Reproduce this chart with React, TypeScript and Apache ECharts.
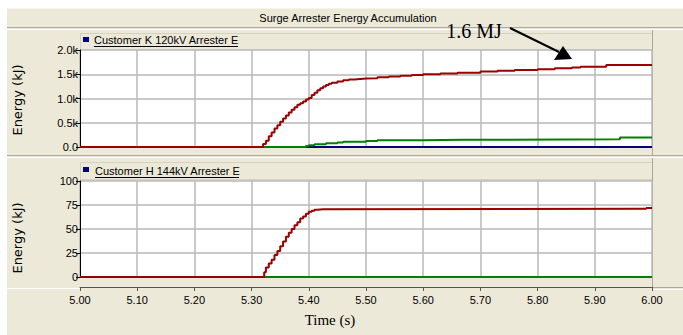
import React, { useEffect, useRef } from "react";
import * as echarts from "echarts";

// ---- Data (time in s, energy in kJ) ----
const X_MIN = 5.0;
const X_MAX = 6.0;
const X_STEP = 0.1;

const TOP_Y_TICKS = ["0.0", "0.5k", "1.0k", "1.5k", "2.0k"];
const BOTTOM_Y_MAX = 100;

// Customer K 120kV
const kRed: [number, number][] = [
  [5.0, 0], [5.315, 0], [5.32, 60], [5.325, 130], [5.33, 220], [5.335, 300], [5.34, 380],
  [5.345, 450], [5.35, 520], [5.355, 590], [5.36, 650], [5.365, 710], [5.37, 770],
  [5.375, 820], [5.38, 870], [5.385, 900], [5.39, 940], [5.395, 980], [5.4, 1010],
  [5.405, 1070], [5.41, 1120], [5.415, 1170], [5.42, 1210], [5.425, 1250], [5.43, 1280],
  [5.435, 1305], [5.44, 1325], [5.45, 1350], [5.46, 1375], [5.47, 1390], [5.48, 1400],
  [5.49, 1410], [5.5, 1420], [5.52, 1440], [5.54, 1455], [5.56, 1470], [5.58, 1485],
  [5.6, 1500], [5.63, 1515], [5.66, 1530], [5.7, 1555], [5.73, 1570], [5.76, 1590],
  [5.8, 1605], [5.83, 1625], [5.86, 1640], [5.875, 1655], [5.92, 1690], [6.0, 1690],
];
const kGreen: [number, number][] = [
  [5.0, 0], [5.39, 0], [5.395, 20], [5.4, 35], [5.41, 55], [5.43, 75], [5.45, 95],
  [5.46, 110], [5.5, 125], [5.52, 140], [5.6, 148], [5.67, 160], [5.944, 195], [6.0, 195],
];
const kBlue: [number, number][] = [[5.0, 0], [6.0, 0]];

// Customer H 144kV
const hRed: [number, number][] = [
  [5.0, 0], [5.32, 0], [5.322, 5], [5.325, 10], [5.33, 14], [5.335, 18], [5.34, 23],
  [5.345, 27], [5.35, 32], [5.355, 37], [5.36, 42], [5.365, 46], [5.37, 50], [5.375, 54],
  [5.38, 57], [5.385, 61], [5.39, 63], [5.395, 66], [5.4, 68], [5.405, 69], [5.41, 70],
  [5.415, 70.5], [5.425, 71], [5.988, 71], [5.99, 72], [6.0, 72],
];
const hGreen: [number, number][] = [[5.0, 0], [6.0, 0]];
const hBlue: [number, number][] = [[5.0, 0], [6.0, 0]];

const TITLE = "Surge Arrester Energy Accumulation";
const LEGEND_TOP = "Customer K 120kV Arrester E";
const LEGEND_BOTTOM = "Customer H 144kV Arrester E";
const Y_NAME = "Energy (kJ)";
const X_NAME = "Time (s)";
const ANNOTATION = "1.6 MJ";

const RED = "#990000";
const GREEN = "#008000";
const BLUE = "#000080";
const BEIGE = "#ECE9D8";
const GRIDC = "#B8B8B8";
const SANS = "Liberation Sans, Arial, sans-serif";

export default function App() {
  const ref = useRef<HTMLDivElement>(null);
  useEffect(() => {
    if (!ref.current) return;
    const chart = echarts.init(ref.current, null, { renderer: "svg" });

    const line = (name: string, data: [number, number][], color: string, idx: number, z: number) => ({
      name,
      type: "line",
      data,
      step: "end",
      showSymbol: false,
      xAxisIndex: idx,
      yAxisIndex: idx,
      z,
      lineStyle: { color, width: 2 },
      itemStyle: { color },
    });

    const yAxisBase = {
      type: "value",
      min: 0,
      axisLine: { show: true, lineStyle: { color: "#000", width: 1 } },
      axisTick: { show: true, length: 4, lineStyle: { color: "#000" } },
      axisLabel: { color: "#000", fontSize: 11, fontFamily: SANS, margin: 2 },
      splitLine: { show: true, lineStyle: { color: GRIDC, width: 1.5 } },
    };

    const hline = (x1: number, x2: number, y: number, color: string, z = -5) => ({
      type: "line",
      z,
      silent: true,
      shape: { x1, y1: y, x2, y2: y },
      style: { stroke: color, lineWidth: 1 },
    });
    const vline = (x: number, y1: number, y2: number, color: string, z = -5) => ({
      type: "line",
      z,
      silent: true,
      shape: { x1: x, y1, x2: x, y2 },
      style: { stroke: color, lineWidth: 1 },
    });

    chart.setOption({
      animation: false,
      backgroundColor: "#ffffff",
      grid: [
        { left: 80, top: 50, width: 572, height: 97, show: true, backgroundColor: "#fff", borderWidth: 0 },
        { left: 80, top: 181, width: 572, height: 96, show: true, backgroundColor: "#fff", borderWidth: 0 },
      ],
      xAxis: [
        {
          type: "value", gridIndex: 0, min: X_MIN, max: X_MAX, interval: X_STEP,
          axisLine: { show: false }, axisTick: { show: false }, axisLabel: { show: false },
          splitLine: { show: true, lineStyle: { color: GRIDC, width: 1.5 } },
        },
        {
          type: "value", gridIndex: 1, min: X_MIN, max: X_MAX, interval: X_STEP, offset: 10,
          axisLine: { show: true, onZero: false, lineStyle: { color: "#555", width: 1 } },
          axisTick: { show: true, length: 4, inside: false, lineStyle: { color: "#555" } },
          axisLabel: {
            color: "#000", fontSize: 11, fontFamily: SANS, margin: 7,
            formatter: (v: number) => v.toFixed(2),
          },
          splitLine: { show: true, lineStyle: { color: GRIDC, width: 1.5 } },
        },
      ],
      yAxis: [
        {
          ...yAxisBase, gridIndex: 0, max: 2000, interval: 500,
          axisLabel: { ...yAxisBase.axisLabel, formatter: (v: number) => TOP_Y_TICKS[Math.round(v / 500)] },
        },
        { ...yAxisBase, gridIndex: 1, max: BOTTOM_Y_MAX, interval: 25 },
      ],
      series: [
        line("K blue", kBlue, BLUE, 0, 2),
        line("K green", kGreen, GREEN, 0, 3),
        line(LEGEND_TOP, kRed, RED, 0, 4),
        line("H blue", hBlue, BLUE, 1, 2),
        line("H green", hGreen, GREEN, 1, 3),
        line(LEGEND_BOTTOM, hRed, RED, 1, 4),
      ],
      graphic: [
        // panel background
        { type: "rect", z: -20, silent: true, shape: { x: 7, y: 8, width: 676, height: 327 }, style: { fill: BEIGE } },
        // title band
        hline(7, 683, 8.5, "#F5F3EA"),
        hline(7, 683, 27.5, "#ACA899"),
        hline(7, 683, 29.5, "#FFFFFF"),
        // top legend band box
        { type: "rect", z: -6, silent: true, shape: { x: 80.5, y: 33.5, width: 572, height: 16.5 }, style: { fill: BEIGE, stroke: "#D6D2C2", lineWidth: 1 } },
        vline(652.5, 30, 155, "#ACA899"),
        // separator between panels
        hline(7, 683, 155.5, "#ACA899"),
        hline(7, 683, 157.5, "#FFFFFF"),
        // bottom legend band
        { type: "rect", z: -6, silent: true, shape: { x: 80.5, y: 162.5, width: 572, height: 17 }, style: { fill: BEIGE, stroke: "#D6D2C2", lineWidth: 1 } },
        vline(652.5, 158, 287, "#ACA899"),
        hline(652, 683, 287.5, "#ACA899"),
        hline(7, 80, 288.5, "#FFFFFF"),
        hline(652, 683, 289.5, "#FFFFFF"),
        // title
        {
          type: "text", z: 10, x: 348, y: 18,
          style: { text: TITLE, fill: "#000", font: `11px ${SANS}`, textAlign: "center", textVerticalAlign: "middle" },
        },
        // legends
        { type: "rect", z: 10, shape: { x: 83, y: 37, width: 6, height: 5 }, style: { fill: BLUE } },
        {
          type: "text", z: 10, x: 94, y: 40,
          style: { text: LEGEND_TOP, fill: "#000", font: `11px ${SANS}`, textAlign: "left", textVerticalAlign: "middle" },
        },
        hline(94, 238, 46.5, "#000", 10),
        { type: "rect", z: 10, shape: { x: 83, y: 167, width: 6, height: 5 }, style: { fill: BLUE } },
        {
          type: "text", z: 10, x: 95, y: 171,
          style: { text: LEGEND_BOTTOM, fill: "#000", font: `11px ${SANS}`, textAlign: "left", textVerticalAlign: "middle" },
        },
        hline(95, 239, 177.5, "#000", 10),
        // y axis names
        {
          type: "text", z: 10, x: 17, y: 100, rotation: Math.PI / 2,
          style: { text: Y_NAME, fill: "#000", font: `13px DejaVu Sans, sans-serif`, textAlign: "center", textVerticalAlign: "middle" },
        },
        {
          type: "text", z: 10, x: 17, y: 238, rotation: Math.PI / 2,
          style: { text: Y_NAME, fill: "#000", font: `13px DejaVu Sans, sans-serif`, textAlign: "center", textVerticalAlign: "middle" },
        },
        // x axis name
        {
          type: "text", z: 10, x: 330, y: 320,
          style: { text: X_NAME, fill: "#000", font: `15px Liberation Serif, Times New Roman, serif`, textAlign: "center", textVerticalAlign: "middle" },
        },
        // annotation
        {
          type: "text", z: 10, x: 474, y: 31,
          style: { text: ANNOTATION, fill: "#000", font: `20px Liberation Serif, Times New Roman, serif`, textAlign: "center", textVerticalAlign: "middle" },
        },
        {
          type: "line", z: 10, shape: { x1: 510, y1: 28, x2: 559, y2: 52 },
          style: { stroke: "#000", lineWidth: 2 },
        },
        {
          type: "polygon", z: 10, shape: { points: [[563, 46], [554, 60], [572, 59]] },
          style: { fill: "#000" },
        },
      ],
    });
    return () => chart.dispose();
  }, []);

  return (
    <div
      ref={ref}
      style={{ position: "fixed", left: 0, top: 0, width: 683, height: 335 }}
    />
  );
}
